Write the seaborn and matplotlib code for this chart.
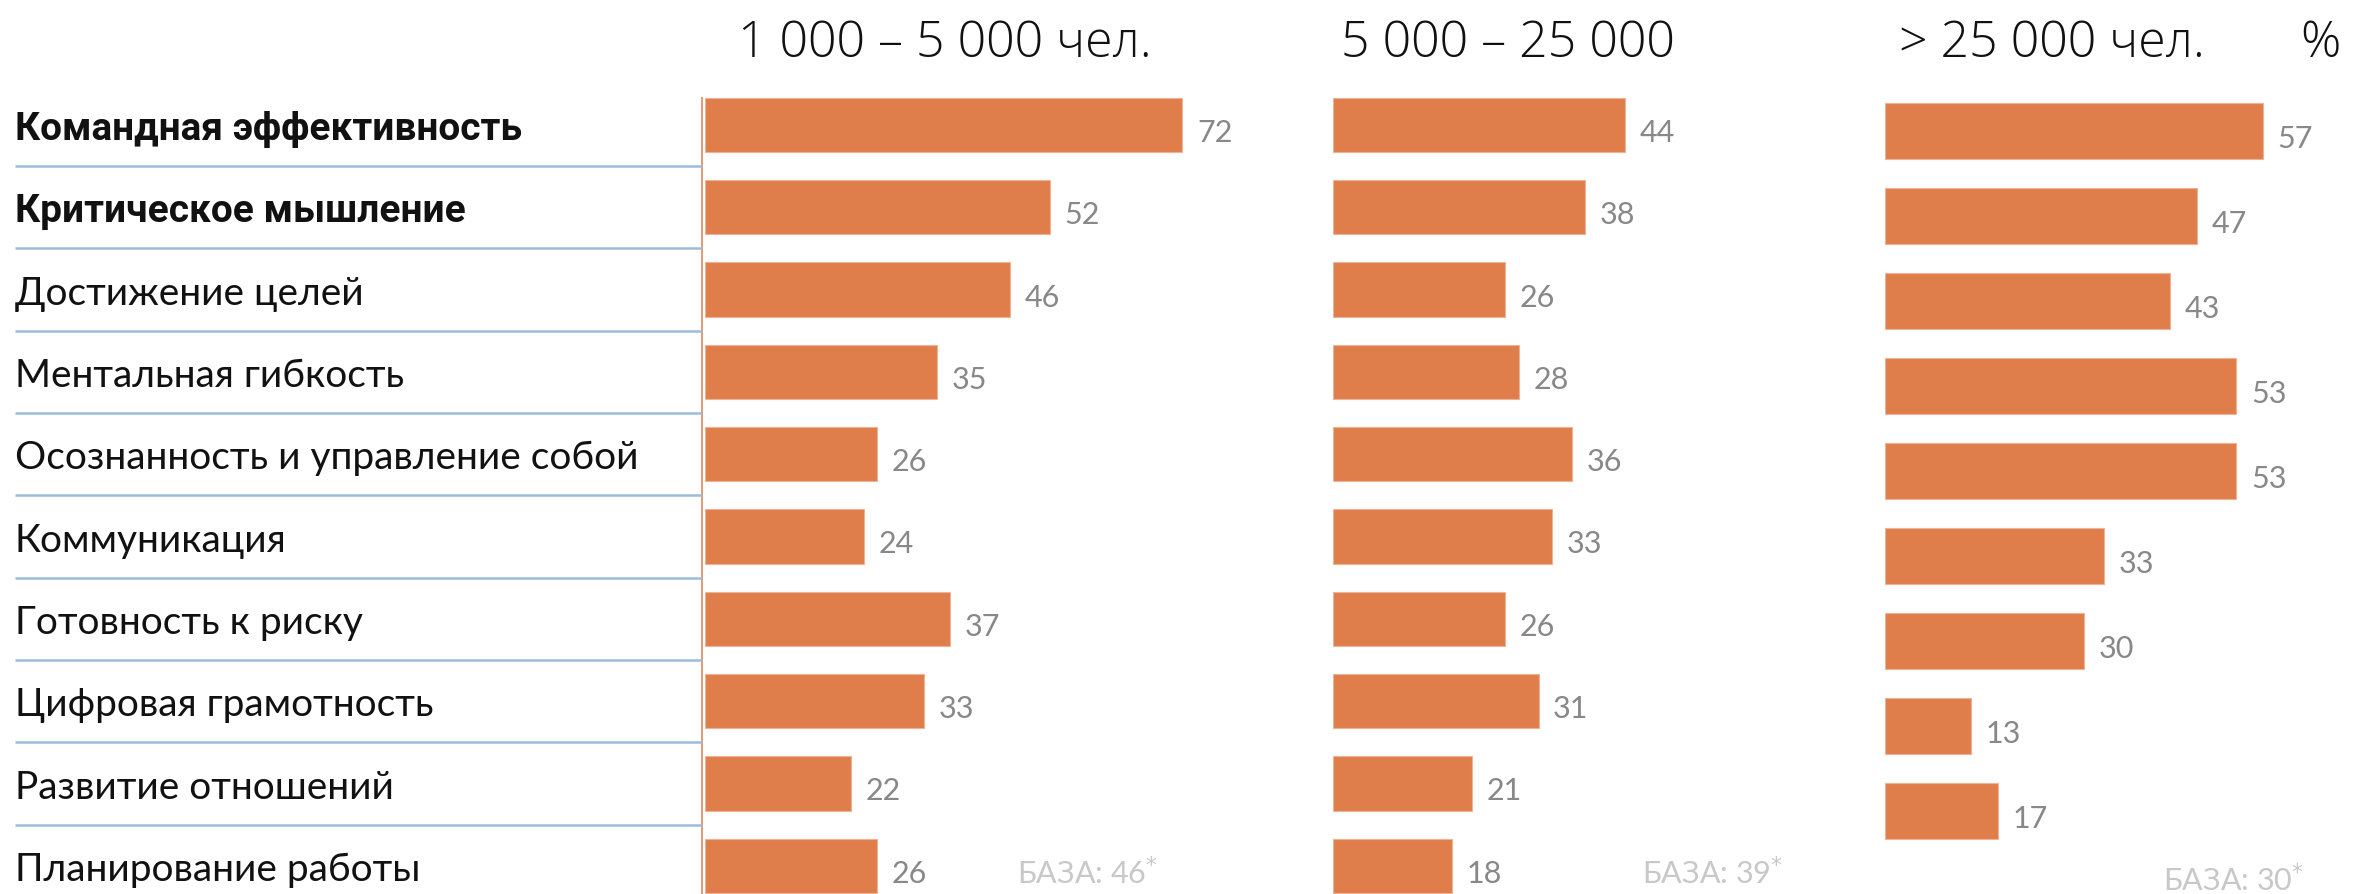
import matplotlib
matplotlib.use("Agg")
import matplotlib.pyplot as plt
import seaborn as sns
import pandas as pd

categories = [
    "Командная эффективность",
    "Критическое мышление",
    "Достижение целей",
    "Ментальная гибкость",
    "Осознанность и управление собой",
    "Коммуникация",
    "Готовность к риску",
    "Цифровая грамотность",
    "Развитие отношений",
    "Планирование работы",
]
small_vals = [72, 52, 46, 35, 26, 24, 37, 33, 22, 26]
mid_vals = [44, 38, 26, 28, 36, 33, 26, 31, 21, 18]
large_vals = [57, 47, 43, 53, 53, 33, 30, 13, 17]
titles = ["1 000 – 5 000 чел.", "5 000 – 25 000", "> 25 000 чел."]
bases = ["46", "39", "30"]

sns.set_theme(style="white")
plt.rcParams["font.family"] = ["Lato", "DejaVu Sans"]

BAR = "#DF7E4A"
VAL = "#888888"
BASE = "#c8c8c8"
LINE = "#9dbcd9"

W, H = 2353, 895
fig = plt.figure(figsize=(W / 100, H / 100), dpi=100)
fig.patch.set_facecolor("white")


def ax_px(left, top, width, height):
    a = fig.add_axes([left / W, 1 - (top + height) / H, width / W, height / H])
    a.patch.set_alpha(0)
    return a


SCALE = 6.63  # px per unit
row1 = 82.3
top1 = 126 - row1 / 2
BW = 0.66


def panel(left, top, row, vals, cats, xmax, spine=False):
    n = len(vals)
    ax = ax_px(left, top, xmax * SCALE, row * n)
    df = pd.DataFrame({"cat": cats[:n], "val": vals})
    sns.barplot(data=df, x="val", y="cat", orient="h", color=BAR,
                saturation=1, width=BW, ax=ax, edgecolor="#f0b295", linewidth=0.8)
    ax.set_xlim(0, xmax)
    ax.set_ylim(n - 0.5, -0.5)
    ax.set_xticks([])
    ax.set_yticks([])
    ax.set_xlabel("")
    ax.set_ylabel("")
    for s in ["top", "right", "bottom", "left"]:
        ax.spines[s].set_visible(False)
    if spine:
        sp = ax.spines["left"]
        sp.set_visible(True)
        sp.set_color("#e39a74")
        sp.set_linewidth(1.4)
        sp.set_position(("outward", 2))
        sp.set_bounds(-BW / 2, n - 0.5)
    for i, v in enumerate(vals):
        ax.annotate(str(v), (v, i), xytext=(10.5, -5), textcoords="offset points",
                    ha="left", va="center", fontsize=22, color=VAL,
                    fontweight="normal")
    return ax


ax1 = panel(705, top1, row1, small_vals, categories, 90, spine=True)
ax2 = panel(1333, top1, row1, mid_vals, categories, 80)
row3 = 85.0
ax3 = panel(1885, 132 - row3 / 2, row3, large_vals, categories, 70)

# label column
axl = ax_px(0, top1, 705, row1 * len(categories))
axl.set_xlim(0, 705)
axl.set_ylim(len(categories) - 0.5, -0.5)
axl.axis("off")
for i, c in enumerate(categories):
    bold = i < 2
    axl.text(15, i + 0.04, c, ha="left", va="center", fontsize=28,
             fontweight="bold" if bold else "normal", color="#111111",
             family=["Roboto", "DejaVu Sans"] if bold else ["Lato", "DejaVu Sans"])
for i in range(len(categories) - 1):
    axl.plot([15, 702], [i + 0.5, i + 0.5], color=LINE, lw=1.8, solid_capstyle="butt")

# titles
for x, t in zip([945, 1508, 2052], titles):
    fig.text(x / W, 1 - 44 / H, t, ha="center", va="center", fontsize=36,
             fontweight="light", color="#111111", family=["Open Sans", "DejaVu Sans"])
fig.text(2320 / W, 1 - 44 / H, "%", ha="center", va="center", fontsize=36,
         fontweight="light", color="#111111", family=["Open Sans", "DejaVu Sans"])

# base notes
for x, y, b in zip([1017, 1642, 2163], [873, 873, 880], bases):
    fig.text(x / W, 1 - y / H, "БАЗА: " + b + r"$^{*}$", ha="left", va="center",
             fontsize=22, fontweight="normal", color=BASE)

fig.savefig("out.png", dpi=100, facecolor="white")
